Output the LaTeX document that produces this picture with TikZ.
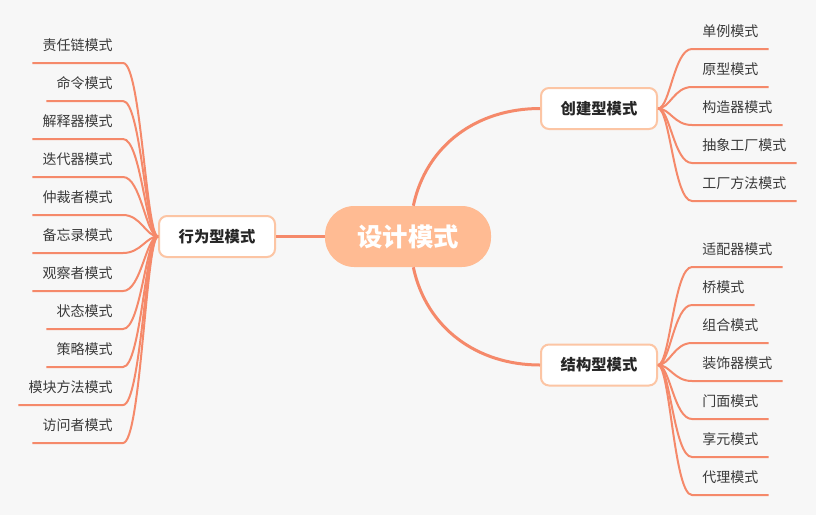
\documentclass[tikz,border=0pt]{standalone}
\usepackage{fontspec}
\newfontfamily\cjk{Noto Sans CJK SC}
\usepackage{tikz}
\usetikzlibrary{positioning, calc}
\definecolor{linecol}{HTML}{F5896A}
\definecolor{rootcol}{HTML}{FFBB93}
\definecolor{boxcol}{HTML}{FCC5A4}
\definecolor{bgcol}{HTML}{F7F7F7}
\definecolor{txtcol}{HTML}{3A3A3A}

\begin{document}
\begin{tikzpicture}[x=0.75pt, y=-0.75pt, font=\cjk,
    rootnode/.style={fill=rootcol, rounded corners=22pt, minimum width=124.5pt, minimum height=45.75pt, text=white, font=\cjk\bfseries\fontsize{19}{22}\selectfont},
    catnode/.style={draw=boxcol, fill=white, line width=1.5pt, rounded corners=6pt, minimum width=87pt, minimum height=30.75pt, text=black!85, font=\cjk\bfseries\fontsize{11.5}{14}\selectfont},
    leafnode/.style={inner xsep=7.5pt, inner ysep=0pt, minimum height=27pt, text=txtcol, font=\cjk\fontsize{10.5}{13}\selectfont},
    mainline/.style={draw=linecol, line width=2.25pt},
    leafline/.style={draw=linecol, line width=1.5pt}]
  \fill[bgcol] (0,0) rectangle (816,515);

  \node[rootnode] (root) at (408,236.5) {设计模式};
  \node[catnode] (create) at (599,108.5) {创建型模式};
  \node[catnode] (struct) at (599,365) {结构型模式};
  \node[catnode] (behave) at (217,236.5) {行为型模式};

  \draw[mainline] (root.west) -- (behave.east);
  \draw[mainline] ([xshift=4]root.north) to[out=78, in=180] (create.west);
  \draw[mainline] ([xshift=4]root.south) to[out=-78, in=180] (struct.west);

  \foreach \i/\t in {1/单例模式, 2/原型模式, 3/构造器模式, 4/抽象工厂模式, 5/工厂方法模式} {
    \node[leafnode, anchor=south west] (c\i) at (692,{49+38*(\i-1)}) {\t};
    \draw[leafline] (create.east) .. controls +(12,0) and +(-18,0) .. (c\i.south west) -- (c\i.south east);
  }
  \foreach \i/\t in {1/适配器模式, 2/桥模式, 3/组合模式, 4/装饰器模式, 5/门面模式, 6/享元模式, 7/代理模式} {
    \node[leafnode, anchor=south west] (s\i) at (692,{267+38*(\i-1)}) {\t};
    \draw[leafline] (struct.east) .. controls +(12,0) and +(-18,0) .. (s\i.south west) -- (s\i.south east);
  }
  \foreach \i/\t in {1/责任链模式, 2/命令模式, 3/解释器模式, 4/迭代器模式, 5/仲裁者模式, 6/备忘录模式, 7/观察者模式, 8/状态模式, 9/策略模式, 10/模块方法模式, 11/访问者模式} {
    \node[leafnode, anchor=south east] (b\i) at (123,{63+38*(\i-1)}) {\t};
    \draw[leafline] (behave.west) .. controls +(-12,0) and +(18,0) .. (b\i.south east) -- (b\i.south west);
  }
\end{tikzpicture}
\end{document}
